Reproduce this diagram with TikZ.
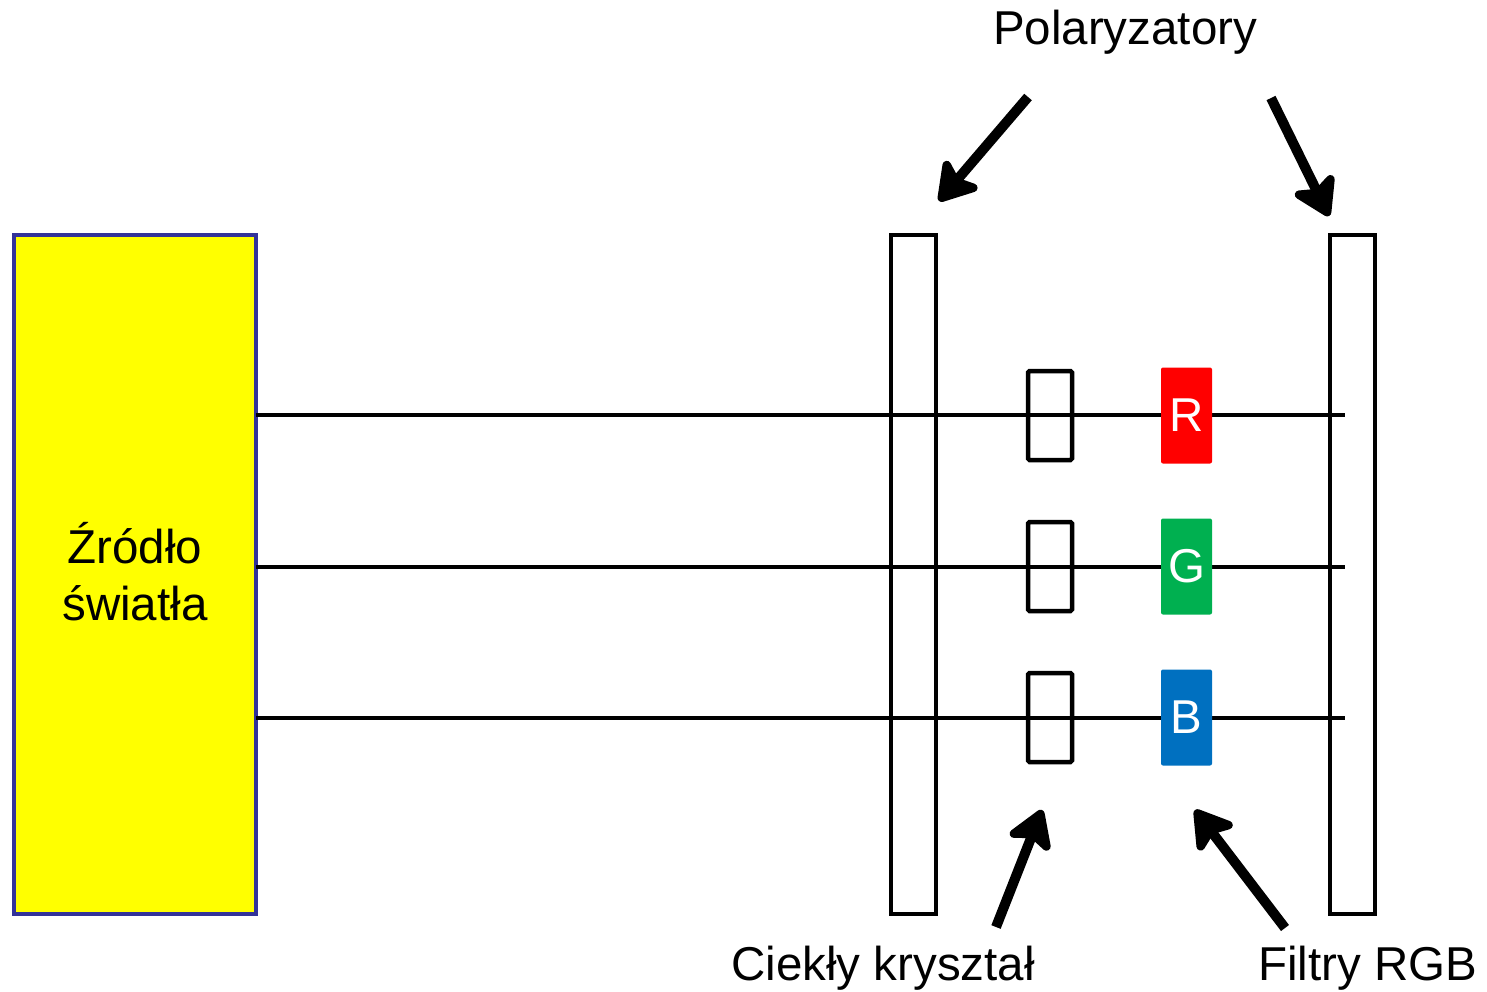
\documentclass[tikz,border=0pt]{standalone}
\usepackage{fontspec}
\setmainfont{Liberation Sans}
\usetikzlibrary{arrows.meta}
\definecolor{srcfill}{HTML}{FFFF00}
\definecolor{srcedge}{HTML}{333399}
\definecolor{filtR}{HTML}{FF0000}
\definecolor{filtG}{HTML}{00B050}
\definecolor{filtB}{HTML}{0070C0}
\begin{document}
\begin{tikzpicture}[x=1pt,y=-1pt,
  every node/.style={inner sep=0pt,outer sep=0pt},
  lbl/.style={font=\fontsize{47.5}{57}\selectfont,anchor=base},
  source/.style={draw=srcedge,fill=srcfill,line width=4.5pt,minimum width=242pt,minimum height=679pt},
  polarizer/.style={draw=black,line width=4.5pt,minimum width=45pt,minimum height=679pt},
  crystal/.style={draw=black,line width=4.5pt,rounded corners=1.5pt,minimum width=44pt,minimum height=89pt},
  filterbox/.style={fill=#1,rounded corners=2pt,minimum width=51pt,minimum height=96pt,
    text=white,font=\fontsize{47.5}{57}\selectfont},
  beam/.style={line width=4.5pt},
  pointer/.style={line width=10pt,-{Stealth[length=44pt,width=54pt,inset=10pt,round]}}]
\useasboundingbox (0,0) rectangle (1487,991);

% light source
\node[source] (src) at (135,574.5) {};
\node[lbl] (srcA) at (135,563) {Źródło};
\node[lbl] (srcB) at (135,620) {światła};

% beam end points
\coordinate (endR) at (1345,415);
\coordinate (endG) at (1345,567);
\coordinate (endB) at (1345,718);
\draw[beam] (src.east |- endR) -- (endR);
\draw[beam] (src.east |- endG) -- (endG);
\draw[beam] (src.east |- endB) -- (endB);

% polarizers
\node[polarizer] (polL) at (913.5,574.5) {};
\node[polarizer] (polR) at (1352.5,574.5) {};

% liquid crystal cells
\node[crystal] (lcR) at (1050,415.5) {};
\node[crystal] (lcG) at (1050,566.5) {};
\node[crystal] (lcB) at (1050,717.5) {};

% colour filters
\node[filterbox=filtR] (fR) at (1186.5,415.5) {R};
\node[filterbox=filtG] (fG) at (1186.5,566.5) {G};
\node[filterbox=filtB] (fB) at (1186.5,717.5) {B};

% labels
\node[lbl] (polText) at (1125,44) {Polaryzatory};
\node[lbl] (lcText) at (883,980) {Ciekły kryształ};
\node[lbl] (rgbText) at (1367.5,980) {Filtry RGB};

% pointers
\coordinate (p1s) at (1028,97);
\coordinate (p1e) at (939,201);
\coordinate (p2s) at (1271,98);
\coordinate (p2e) at (1329,216);
\coordinate (p3s) at (996,927);
\coordinate (p3e) at (1042,810);
\coordinate (p4s) at (1285,928);
\coordinate (p4e) at (1195,810);
\draw[pointer] (p1s) -- (p1e);
\draw[pointer] (p2s) -- (p2e);
\draw[pointer] (p3s) -- (p3e);
\draw[pointer] (p4s) -- (p4e);
\end{tikzpicture}
\end{document}
